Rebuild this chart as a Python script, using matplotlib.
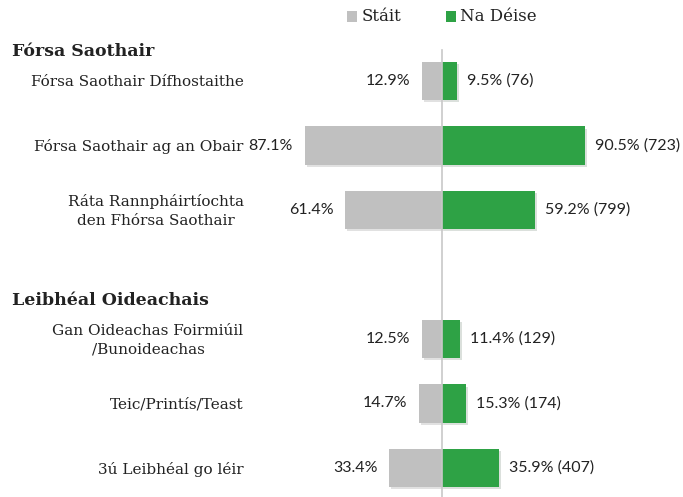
import matplotlib.pyplot as plt
import matplotlib.patheffects as pe
from matplotlib.patches import Rectangle

categories = [
    "Fórsa Saothair Dífhostaithe",
    "Fórsa Saothair ag an Obair",
    "Ráta Rannpháirtíochta\nden Fhórsa Saothair",
    "Gan Oideachas Foirmiúil\n/Bunoideachas",
    "Teic/Printís/Teast",
    "3ú Leibhéal go léir",
]
state_pct = [12.9, 87.1, 61.4, 12.5, 14.7, 33.4]
deise_pct = [9.5, 90.5, 59.2, 11.4, 15.3, 35.9]
deise_n = [76, 723, 799, 129, 174, 407]
headers = ["Fórsa Saothair", "Leibhéal Oideachais"]

GREY = "#c0c0c0"
GREEN = "#2ea245"
SLAB = ["DejaVu Serif"]
SANS = ["Lato", "DejaVu Sans"]

rows = [0, 1, 2, 4, 5, 6]
header_rows = [-0.45, 3.41]

fig = plt.figure(figsize=(6.83, 4.97), dpi=100)
ax = fig.add_axes([0, 0, 1, 1])
ax.set_xlim(-280.6, 153.0)
ax.set_ylim(6.45, -1.256)
ax.axis("off")

shadow = [pe.SimplePatchShadow(offset=(1.5, -1.5), alpha=0.15), pe.Normal()]
h = 0.59
ax.barh(rows, [-v for v in state_pct], height=h, color=GREY, path_effects=shadow, zorder=2)
ax.barh(rows, deise_pct, height=h, color=GREEN, path_effects=shadow, zorder=2)
ax.plot([0, 0], [-0.48, 6.45], color="#c8c8c8", lw=1.2, zorder=3)

for y, lab, s, d, n in zip(rows, categories, state_pct, deise_pct, deise_n):
    ax.text(-126, y + 0.02, lab, ha="right", va="center", multialignment="center",
            fontsize=11, family=SLAB, color="#222222", linespacing=1.45)
    ax.text(-s - 7.5, y, f"{s}%", ha="right", va="center",
            fontsize=11.5, family=SANS, color="#222222")
    ax.text(d + 6.5, y, f"{d}% ({n})", ha="left", va="center",
            fontsize=11.5, family=SANS, color="#222222")

for y, lab in zip(header_rows, headers):
    ax.text(-273, y, lab, ha="left", va="center", fontsize=12.5,
            fontweight="bold", family=SLAB, color="#222222")

# legend drawn by hand above the bars
leg_y = -1.0
for x0, col, lab in [(-60.3, GREY, "Stáit"), (2.5, GREEN, "Na Déise")]:
    ax.add_patch(Rectangle((x0, leg_y - 0.08), 6.5, 0.16, color=col, lw=0))
    ax.text(x0 + 9, leg_y, lab, ha="left", va="center", fontsize=12,
            family=SLAB, color="#222222")

fig.savefig("out.png", dpi=100)
